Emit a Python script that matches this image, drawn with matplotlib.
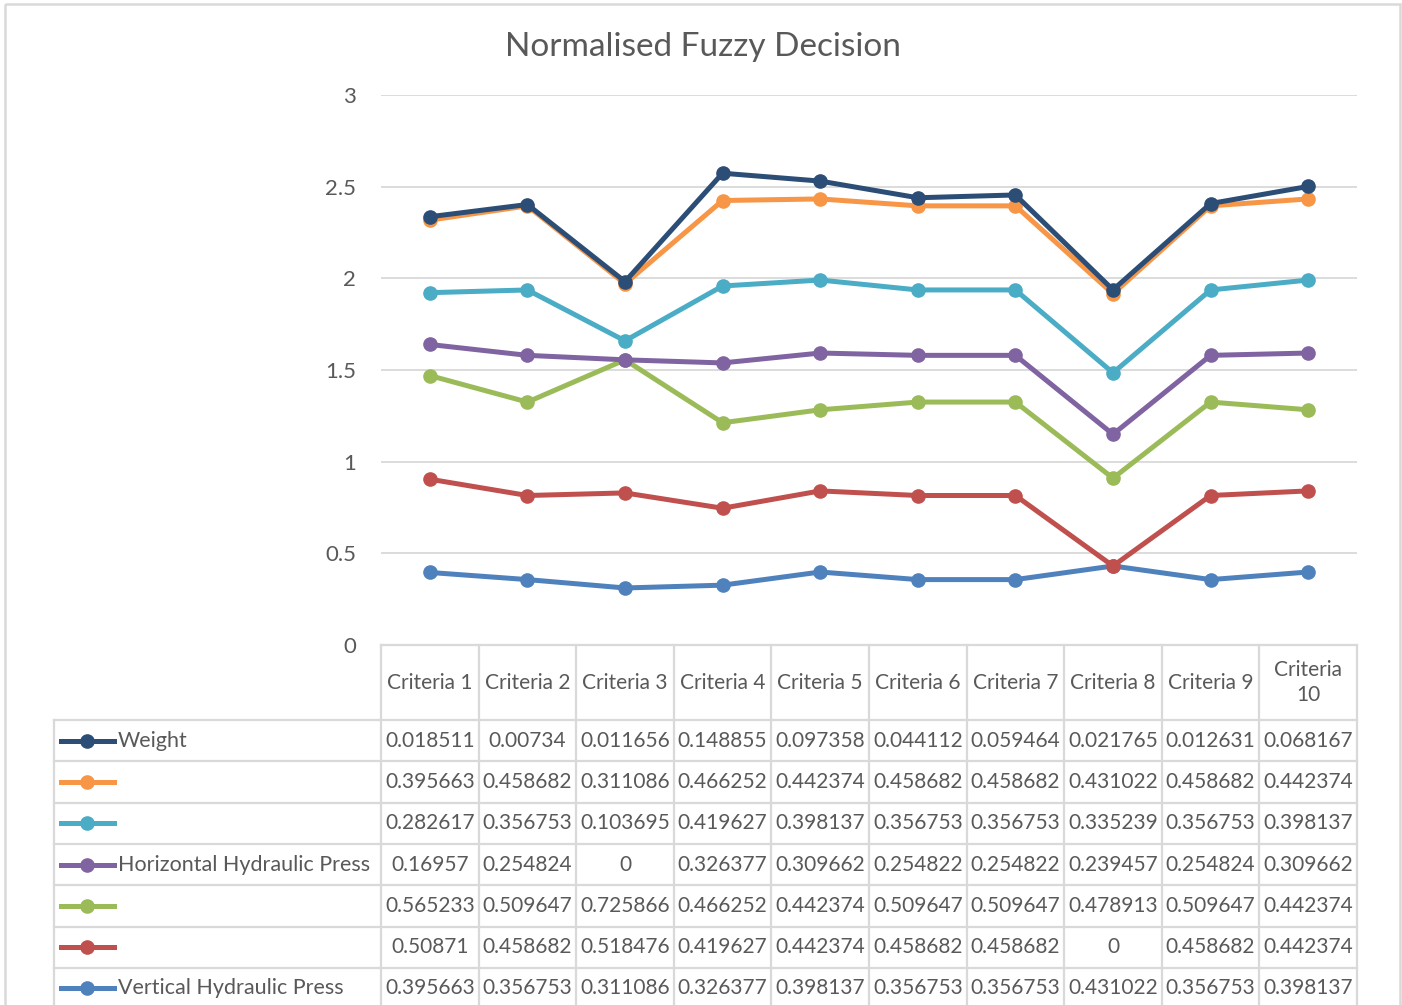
import matplotlib.pyplot as plt
import matplotlib.transforms as mtransforms
from matplotlib.lines import Line2D
from matplotlib.patches import Rectangle
import numpy as np

plt.rcParams['font.family'] = ['Lato', 'DejaVu Sans']

# Data
criteria = ['Criteria 1', 'Criteria 2', 'Criteria 3', 'Criteria 4', 'Criteria 5',
            'Criteria 6', 'Criteria 7', 'Criteria 8', 'Criteria 9', 'Criteria\n10']
vertical = [0.395663, 0.356753, 0.311086, 0.326377, 0.398137, 0.356753, 0.356753, 0.431022, 0.356753, 0.398137]
red_s = [0.50871, 0.458682, 0.518476, 0.419627, 0.442374, 0.458682, 0.458682, 0, 0.458682, 0.442374]
green_s = [0.565233, 0.509647, 0.725866, 0.466252, 0.442374, 0.509647, 0.509647, 0.478913, 0.509647, 0.442374]
horizontal = [0.16957, 0.254824, 0, 0.326377, 0.309662, 0.254822, 0.254822, 0.239457, 0.254824, 0.309662]
cyan_s = [0.282617, 0.356753, 0.103695, 0.419627, 0.398137, 0.356753, 0.356753, 0.335239, 0.356753, 0.398137]
orange_s = [0.395663, 0.458682, 0.311086, 0.466252, 0.442374, 0.458682, 0.458682, 0.431022, 0.458682, 0.442374]
weight = [0.018511, 0.00734, 0.011656, 0.148855, 0.097358, 0.044112, 0.059464, 0.021765, 0.012631, 0.068167]

# stack order bottom -> top
series = [vertical, red_s, green_s, horizontal, cyan_s, orange_s, weight]
names = ['Vertical Hydraulic Press', '', '', 'Horizontal Hydraulic Press', '', '', 'Weight']
colors = ['#4F81BD', '#C0504D', '#9BBB59', '#8064A2', '#4BACC6', '#F79646', '#2C4D75']

W, H = 1402, 1005
fig = plt.figure(figsize=(W / 100, H / 100), dpi=100)
text_color = '#595959'
grid_color = '#D9D9D9'
fs = 15

# overlay axes in pixel coordinates
bg = fig.add_axes([0, 0, 1, 1])
bg.set_xlim(0, W)
bg.set_ylim(H, 0)
bg.axis('off')

# chart axes
x0, x1, yb, yt = 381, 1357, 645, 95
ax = fig.add_axes([x0 / W, 1 - yb / H, (x1 - x0) / W, (yb - yt) / H])
ax.set_xlim(-0.5, len(criteria) - 0.5)
ax.set_ylim(0, 3)
ax.set_yticks(np.arange(0, 3.01, 0.5))
ax.set_yticklabels(['0', '0.5', '1', '1.5', '2', '2.5', '3'])
ax.set_xticks([])
ax.tick_params(axis='y', length=0, pad=18, labelsize=16, labelcolor=text_color)
for s in ax.spines.values():
    s.set_visible(False)
ax.grid(axis='y', color=grid_color, lw=1.3)
ax.set_axisbelow(True)
ax.patch.set_alpha(0)

xs = np.arange(len(criteria))
cum = np.zeros(len(criteria))
for i, (vals, c) in enumerate(zip(series, colors)):
    cum = cum + np.array(vals)
    ax.plot(xs, cum, color=c, lw=3.6, marker='o', markersize=9.5,
            solid_capstyle='round', zorder=3 + i, clip_on=False)

fig.text(703 / W, 1 - 47 / H, 'Normalised Fuzzy Decision', ha='center', va='center',
         fontsize=24, color=text_color)

# data table
tr = mtransforms.blended_transform_factory(ax.transData, bg.transData)
lc = grid_color
lw = 1.6
row_top = 720
row_h = 41.3
n_rows = len(series)
bottom = row_top + row_h * n_rows

# header row
bg.plot([-0.5, len(criteria) - 0.5], [yb, yb], transform=tr, color=lc, lw=lw, clip_on=False)
for k in range(len(criteria) + 1):
    bg.plot([k - 0.5, k - 0.5], [yb, bottom], transform=tr, color=lc, lw=lw)
for k, lab in enumerate(criteria):
    bg.text(k, (yb + row_top) / 2, lab, transform=tr, ha='center', va='center',
            fontsize=fs, color=text_color, linespacing=1.3)

bg.plot([54, 54], [row_top, bottom], color=lc, lw=lw)
for r in range(n_rows + 1):
    yy = row_top + r * row_h
    bg.plot([54, x1], [yy, yy], color=lc, lw=lw)

# rows listed top series first
for r, idx in enumerate(range(n_rows - 1, -1, -1)):
    yc = row_top + r * row_h + row_h / 2
    bg.add_line(Line2D([61, 114], [yc, yc], color=colors[idx], lw=3.6))
    bg.plot([87], [yc], marker='o', markersize=9.5, color=colors[idx])
    if names[idx]:
        bg.text(118, yc, names[idx], ha='left', va='center', fontsize=15.5, color=text_color)
    for k, v in enumerate(series[idx]):
        bg.text(k, yc, '{:g}'.format(v), transform=tr, ha='center', va='center',
                fontsize=fs, color=text_color)

# outer chart frame
bg.add_patch(Rectangle((5, 4), 1395, 1100, fill=False, edgecolor=grid_color, lw=1.8))

fig.savefig('out.png', dpi=100)
